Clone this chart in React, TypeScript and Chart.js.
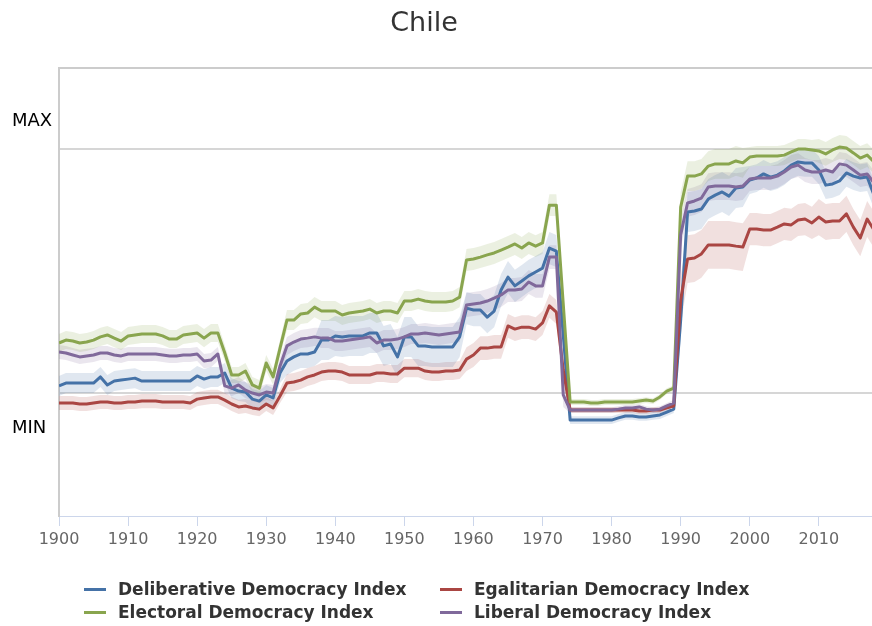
import React, { useEffect, useRef } from "react";
import { Chart, registerables } from "chart.js";

Chart.register(...registerables);

const chartTitle = "Chile";
const firstYear = 1900;
const xAxisMax = 2017.7;
const xTickYears = [1900, 1910, 1920, 1930, 1940, 1950, 1960, 1970, 1980, 1990, 2000, 2010];

// y scale: 0 = MIN reference line, 1 = MAX reference line
const yMin = -0.504;
const yMax = 1.332;
const yTickValues = [-0.143, 0, 1, 1.115, 1.332];
const yTickLabels = ["MIN", "", "", "MAX", ""];
const yGridValues = [0, 1];

const seriesNames = [
  "Deliberative Democracy Index",
  "Egalitarian Democracy Index",
  "Electoral Democracy Index",
  "Liberal Democracy Index",
];
const seriesColors = ["#4572A7", "#AA4643", "#89A54E", "#80699B"];

// 1900 .. 2018
const deliberative = [
  0.029, 0.041, 0.041, 0.041, 0.041, 0.041, 0.066, 0.033, 0.049, 0.053,
  0.057, 0.061, 0.049, 0.049, 0.049, 0.049, 0.049, 0.049, 0.049, 0.049,
  0.070, 0.057, 0.066, 0.066, 0.082, 0.020, 0.008, 0.004, -0.025, -0.033,
  -0.008, -0.020, 0.082, 0.131, 0.148, 0.160, 0.160, 0.168, 0.217, 0.217,
  0.234, 0.230, 0.234, 0.234, 0.234, 0.246, 0.246, 0.193, 0.201, 0.148,
  0.230, 0.230, 0.193, 0.193, 0.189, 0.189, 0.189, 0.189, 0.230, 0.348,
  0.340, 0.340, 0.311, 0.336, 0.422, 0.475, 0.439, 0.459, 0.480, 0.496,
  0.512, 0.594, 0.582, 0.238, -0.111, -0.111, -0.111, -0.111, -0.111, -0.111,
  -0.111, -0.102, -0.094, -0.094, -0.098, -0.098, -0.094, -0.090, -0.078, -0.066,
  0.299, 0.742, 0.746, 0.754, 0.795, 0.811, 0.824, 0.807, 0.840, 0.844,
  0.873, 0.881, 0.898, 0.885, 0.893, 0.910, 0.934, 0.947, 0.943, 0.943,
  0.914, 0.852, 0.857, 0.869, 0.902, 0.889, 0.881, 0.885, 0.811,
];

const egalitarian = [
  -0.041, -0.041, -0.041, -0.045, -0.045, -0.041, -0.037, -0.037, -0.041, -0.041,
  -0.037, -0.037, -0.033, -0.033, -0.033, -0.037, -0.037, -0.037, -0.037, -0.041,
  -0.025, -0.020, -0.016, -0.016, -0.029, -0.045, -0.057, -0.053, -0.061, -0.066,
  -0.045, -0.061, -0.012, 0.041, 0.045, 0.053, 0.066, 0.074, 0.086, 0.090,
  0.090, 0.086, 0.074, 0.074, 0.074, 0.074, 0.082, 0.082, 0.078, 0.078,
  0.102, 0.102, 0.102, 0.090, 0.086, 0.086, 0.090, 0.090, 0.094, 0.139,
  0.156, 0.184, 0.184, 0.189, 0.189, 0.275, 0.262, 0.270, 0.270, 0.262,
  0.287, 0.357, 0.332, 0.094, -0.070, -0.070, -0.070, -0.070, -0.070, -0.070,
  -0.070, -0.070, -0.070, -0.070, -0.074, -0.074, -0.070, -0.070, -0.061, -0.053,
  0.381, 0.549, 0.553, 0.570, 0.607, 0.607, 0.607, 0.607, 0.602, 0.598,
  0.672, 0.672, 0.668, 0.668, 0.680, 0.693, 0.689, 0.709, 0.713, 0.697,
  0.721, 0.701, 0.705, 0.705, 0.734, 0.680, 0.635, 0.713, 0.668,
];

const electoral = [
  0.205, 0.217, 0.213, 0.205, 0.209, 0.217, 0.230, 0.238, 0.225, 0.213,
  0.234, 0.238, 0.242, 0.242, 0.242, 0.234, 0.221, 0.221, 0.238, 0.242,
  0.246, 0.225, 0.246, 0.246, 0.164, 0.074, 0.074, 0.090, 0.033, 0.020,
  0.123, 0.066, 0.184, 0.299, 0.299, 0.324, 0.328, 0.352, 0.336, 0.336,
  0.336, 0.320, 0.328, 0.332, 0.336, 0.344, 0.328, 0.336, 0.336, 0.328,
  0.377, 0.377, 0.385, 0.377, 0.373, 0.373, 0.373, 0.377, 0.393, 0.545,
  0.549, 0.557, 0.566, 0.574, 0.586, 0.598, 0.611, 0.594, 0.615, 0.602,
  0.615, 0.770, 0.770, 0.365, -0.037, -0.037, -0.037, -0.041, -0.041, -0.037,
  -0.037, -0.037, -0.037, -0.037, -0.033, -0.029, -0.033, -0.016, 0.008, 0.020,
  0.762, 0.889, 0.889, 0.898, 0.930, 0.939, 0.939, 0.939, 0.951, 0.943,
  0.967, 0.971, 0.971, 0.971, 0.971, 0.975, 0.988, 1.000, 1.000, 0.996,
  0.992, 0.980, 0.996, 1.008, 1.004, 0.984, 0.963, 0.975, 0.947,
];

const liberal = [
  0.168, 0.164, 0.156, 0.148, 0.152, 0.156, 0.164, 0.164, 0.156, 0.152,
  0.160, 0.160, 0.160, 0.160, 0.160, 0.156, 0.152, 0.152, 0.156, 0.156,
  0.160, 0.131, 0.135, 0.160, 0.029, 0.020, 0.033, 0.012, 0.000, -0.008,
  0.004, 0.000, 0.111, 0.193, 0.209, 0.221, 0.225, 0.230, 0.225, 0.225,
  0.213, 0.213, 0.217, 0.221, 0.225, 0.230, 0.205, 0.217, 0.217, 0.221,
  0.230, 0.242, 0.242, 0.246, 0.242, 0.238, 0.242, 0.246, 0.250, 0.361,
  0.365, 0.369, 0.377, 0.389, 0.402, 0.422, 0.422, 0.426, 0.455, 0.439,
  0.439, 0.557, 0.557, -0.008, -0.070, -0.070, -0.070, -0.070, -0.070, -0.070,
  -0.070, -0.066, -0.061, -0.061, -0.057, -0.066, -0.070, -0.066, -0.053, -0.041,
  0.648, 0.779, 0.787, 0.799, 0.844, 0.848, 0.848, 0.848, 0.844, 0.848,
  0.877, 0.881, 0.881, 0.881, 0.889, 0.906, 0.926, 0.934, 0.914, 0.906,
  0.906, 0.914, 0.906, 0.939, 0.934, 0.914, 0.893, 0.898, 0.861,
];

// Confidence-band half widths, by period (period start years)
const bandPeriodStarts = [1900, 1924, 1933, 1938, 1959, 1974, 1990, 2000, 2010];
const deliberativeBand = [0.041, 0.041, 0.057, 0.082, 0.066, 0.016, 0.082, 0.057, 0.057];
const egalitarianBand = [0.029, 0.029, 0.037, 0.037, 0.049, 0.012, 0.098, 0.066, 0.074];
const electoralBand = [0.037, 0.033, 0.041, 0.041, 0.045, 0.012, 0.061, 0.041, 0.049];
const liberalBand = [0.029, 0.033, 0.037, 0.041, 0.049, 0.012, 0.057, 0.049, 0.049];

const seriesValues = [deliberative, egalitarian, electoral, liberal];
const seriesBands = [deliberativeBand, egalitarianBand, electoralBand, liberalBand];
const lineOrder = [4, 3, 2, 1]; // later series drawn on top

function rgba(hex: string, a: number) {
  const n = parseInt(hex.slice(1), 16);
  return `rgba(${(n >> 16) & 255},${(n >> 8) & 255},${n & 255},${a})`;
}

function periodIndex(year: number) {
  let idx = 0;
  for (let i = 0; i < bandPeriodStarts.length; i++) {
    if (year >= bandPeriodStarts[i]) idx = i;
  }
  return idx;
}

export default function App() {
  const canvasRef = useRef<HTMLCanvasElement | null>(null);

  useEffect(() => {
    if (!canvasRef.current) return;
    const datasets: any[] = [];
    seriesValues.forEach((vals, s) => {
      const band = seriesBands[s];
      const lower = vals.map((v, i) => ({ x: firstYear + i, y: v - band[periodIndex(firstYear + i)] }));
      const upper = vals.map((v, i) => ({ x: firstYear + i, y: v + band[periodIndex(firstYear + i)] }));
      const lowerIndex = datasets.length;
      datasets.push({
        label: seriesNames[s] + " low",
        data: lower,
        borderWidth: 0,
        borderColor: "rgba(0,0,0,0)",
        backgroundColor: "rgba(0,0,0,0)",
        pointRadius: 0,
        fill: false,
        tension: 0,
        order: 20 + s,
      });
      datasets.push({
        label: seriesNames[s] + " high",
        data: upper,
        borderWidth: 0,
        borderColor: "rgba(0,0,0,0)",
        backgroundColor: rgba(seriesColors[s], 0.17),
        pointRadius: 0,
        fill: lowerIndex,
        tension: 0,
        order: 20 + s,
      });
    });
    seriesValues.forEach((vals, s) => {
      datasets.push({
        label: seriesNames[s],
        data: vals.map((v, i) => ({ x: firstYear + i, y: v })),
        borderColor: seriesColors[s],
        backgroundColor: seriesColors[s],
        borderWidth: 3,
        pointRadius: 0,
        fill: false,
        tension: 0,
        borderJoinStyle: "round",
        order: lineOrder[s],
      });
    });

    const chart = new Chart(canvasRef.current, {
      type: "line",
      data: { datasets },
      options: {
        animation: false,
        responsive: true,
        maintainAspectRatio: false,
        events: [],
        layout: { padding: { left: 12, right: 0, top: 68, bottom: 0 } },
        plugins: {
          legend: { display: false },
          tooltip: { enabled: false },
          title: { display: false },
        },
        scales: {
          x: {
            type: "linear",
            min: firstYear,
            max: xAxisMax,
            afterBuildTicks: (scale: any) => {
              scale.ticks = xTickYears.map((v) => ({ value: v }));
            },
            afterFit: (scale: any) => {
              scale.height = 110;
            },
            grid: {
              drawOnChartArea: false,
              drawTicks: true,
              tickLength: 10,
              color: "#ccd6eb",
              lineWidth: 1,
            },
            border: { color: "#ccd6eb", width: 1 },
            ticks: {
              color: "#666666",
              font: { family: "DejaVu Sans", size: 16 },
              padding: 4,
              autoSkip: false,
              maxRotation: 0,
              callback: (v: any) => String(v),
            },
          },
          y: {
            type: "linear",
            min: yMin,
            max: yMax,
            afterBuildTicks: (scale: any) => {
              scale.ticks = yTickValues.map((v) => ({ value: v }));
            },
            afterFit: (scale: any) => {
              scale.width = 47;
            },
            grid: {
              drawTicks: false,
              lineWidth: 2,
              color: (ctx: any) => {
                const v = ctx.tick ? ctx.tick.value : null;
                if (v === yMax) return "#cccccc";
                if (yGridValues.includes(v)) return "#d6d6d6";
                return "rgba(0,0,0,0)";
              },
            },
            border: { color: "#cccccc", width: 2 },
            ticks: {
              crossAlign: "far",
              autoSkip: false,
              color: "#000000",
              font: { family: "DejaVu Sans", size: 18 },
              callback: (_v: any, i: number) => yTickLabels[i],
            },
          },
        },
      } as any,
    });
    return () => chart.destroy();
  }, []);

  return (
    <div style={{ position: "absolute", left: 0, top: 0, width: 872, height: 626, background: "#fff" }}>
      <div style={{ position: "absolute", left: 0, top: 0, width: 872, height: 626 }}>
        <canvas ref={canvasRef} />
      </div>
      <div
        style={{
          position: "absolute",
          left: 0,
          top: 6,
          width: 848,
          textAlign: "center",
          font: '27px "DejaVu Sans"',
          lineHeight: "32px",
          color: "#333333",
        }}
      >
        {chartTitle}
      </div>
      <div
        style={{
          position: "absolute",
          left: 84,
          top: 578,
          display: "grid",
          gridTemplateColumns: "356px auto",
          font: 'bold 17px "DejaVu Sans"',
          color: "#333333",
          lineHeight: "23px",
        }}
      >
        {seriesNames.map((name, i) => (
          <div key={name} style={{ display: "flex", alignItems: "center", whiteSpace: "nowrap" }}>
            <span
              style={{
                display: "inline-block",
                width: 22,
                height: 3,
                background: seriesColors[i],
                marginRight: 12,
              }}
            />
            {name}
          </div>
        ))}
      </div>
    </div>
  );
}
